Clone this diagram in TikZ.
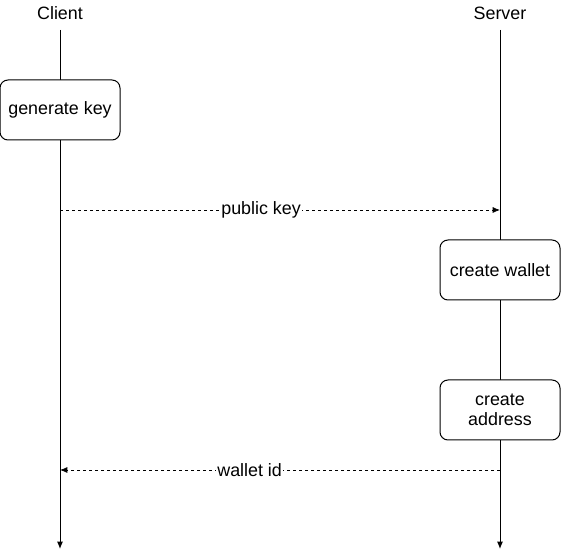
\documentclass[tikz,border=0pt]{standalone}
\usepackage{fontspec}
\setmainfont{Liberation Sans}
\usetikzlibrary{positioning,arrows.meta}
\tikzstyle{actor} = [inner sep=0pt]
\tikzstyle{block} = [draw, rectangle, rounded corners=6pt, fill=white, minimum height=45pt, minimum width=90pt, align=center, line width=0.75pt]
\tikzstyle{msg} = [dash pattern=on 2.25pt off 2.25pt, line width=0.6pt]
\tikzstyle{msglabel} = [fill=white, inner sep=1pt]
\tikzstyle{lifeline} = [line width=0.75pt]

\begin{document}
\begin{tikzpicture}[x=0.75pt, y=-0.75pt, >={Latex[length=5.5pt,width=4.5pt]}, font=\fontsize{13.4}{15}\selectfont]
\useasboundingbox (0,0) rectangle (562,559);

\node [actor] (client) at (60,13) {Client};
\node [actor] (server) at (500,13) {Server};

\coordinate (clientTop) at (60,30);
\coordinate (clientEnd) at (60,549);
\coordinate (serverTop) at (500,30);
\coordinate (serverEnd) at (500,549);

\draw [lifeline, ->] (clientTop) -- (clientEnd);
\draw [lifeline, ->] (serverTop) -- (serverEnd);

\node [block] (genkey) at (60,110) {generate key};
\node [block] (wallet) at (500,270) {create wallet};
\node [block, below=105pt of wallet.center, anchor=center] (address) {create\\address};

\coordinate (pkC) at (60,210);
\coordinate (pkS) at (500,210);
\coordinate (idS) at (500,470);
\coordinate (idC) at (60,470);

\draw [msg, ->] (pkC) -- node [msglabel, pos=0.457] {public key} (pkS);
\draw [msg, ->] (idS) -- node [msglabel, pos=0.569] {wallet id} (idC);

\end{tikzpicture}
\end{document}
